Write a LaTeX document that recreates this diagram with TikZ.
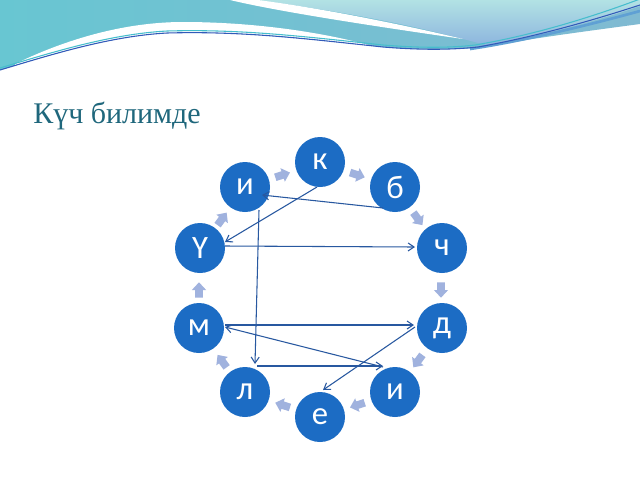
\documentclass[tikz,border=0pt]{standalone}
\usepackage{fontspec}
\setmainfont{Liberation Serif}
\newfontfamily\letterfont{Carlito}
\usetikzlibrary{arrows.meta,calc}
\definecolor{ballblue}{RGB}{28,108,196}
\definecolor{linkblue}{RGB}{40,88,160}
\definecolor{chev}{RGB}{160,178,222}
\definecolor{titleteal}{RGB}{31,103,124}
\definecolor{hdrleft}{RGB}{104,198,210}
\definecolor{hdrright}{RGB}{128,186,210}
\definecolor{cyantop}{RGB}{178,226,228}
\definecolor{cyanbot}{RGB}{140,180,222}
\definecolor{lineteal}{RGB}{70,190,205}
\definecolor{lineblue}{RGB}{50,90,185}
\definecolor{bandblue}{RGB}{95,160,212}
\begin{document}
\begin{tikzpicture}[x=0.75pt,y=-0.75pt,
  ball/.style={circle,fill=ballblue,minimum size=37.5pt,inner sep=0pt,text=white,
    font=\letterfont\fontsize{24.5}{24.5}\selectfont},
  link/.style={draw=linkblue,line width=0.8pt,-{Straight Barb[length=4.5pt,width=6pt]}},
  chevron/.style={fill=chev}
]
\useasboundingbox (0,0) rectangle (640,480);
\fill[white] (0,0) rectangle (640,480);
% header: base blue region
\shade[left color=hdrleft,right color=hdrright]
  (0,0) -- (640,0) -- (640,24)
  .. controls (580,32) and (520,40) .. (480,48)
  .. controls (440,50) and (400,49) .. (383,47)
  .. controls (300,38) and (240,31) .. (167,33)
  .. controls (110,36) and (50,55) .. (0,70) -- cycle;
% light cyan region top right
\shade[top color=cyantop,bottom color=cyanbot]
  (255,0) .. controls (320,8) and (400,22) .. (463,39)
  -- (490,46) .. controls (540,36) and (600,20) .. (640,6) -- (640,0) -- cycle;
% upper white crescent
\fill[white] (230,0) .. controls (280,12) and (380,27) .. (463,39)
  .. controls (400,24) and (320,8) .. (258,0) -- cycle;
% lower white swoosh
\fill[white] (15,64) .. controls (60,42) and (120,22) .. (183,22)
  .. controls (260,22) and (330,34) .. (372,46)
  .. controls (300,37) and (240,31) .. (167,33)
  .. controls (110,36) and (50,55) .. (15,65) -- cycle;
% header lines
\draw[lineteal,line width=0.8pt] (0,68) .. controls (50,53) and (110,34) .. (167,31)
  .. controls (240,29) and (300,36) .. (383,45)
  .. controls (420,48) and (450,48) .. (475,45)
  .. controls (540,34) and (600,14) .. (640,-1);
\draw[bandblue,line width=2pt] (470,49) .. controls (530,40) and (600,22) .. (640,11);
\draw[lineblue,line width=0.8pt] (0,70) .. controls (50,55) and (110,36) .. (167,33)
  .. controls (240,31) and (300,38) .. (383,47)
  .. controls (420,50) and (450,50) .. (478,47)
  .. controls (540,36) and (600,18) .. (640,5);
% title
\node[anchor=base west,inner sep=0pt,text=titleteal,font=\fontsize{22.5}{22.5}\selectfont] (title) at (33,123) {Күч билимде};
% small ring arrows
\foreach \t in {108,72,36,0,-36,-72,-108,-144,180,144}{
  \fill[chevron,shift={({320+121*cos(\t)},{290-121*sin(\t)})},rotate={\t-90},scale=1.1]
    (-7,-3.5) -- (0,-3.5) -- (0,-6.5) -- (7,0) -- (0,6.5) -- (0,3.5) -- (-7,3.5) -- cycle;
}
% letter circles
\node[ball] (k) at (320,162) {к};
\node[ball] (i1) at (245,187) {и};
\node[ball] (b) at (395,187) {б};
\node[ball] (Y) at (200,248) {Ү};
\node[ball] (ch) at (442,248) {ч};
\node[ball] (m) at (199,328) {м};
\node[ball] (d) at (442,328) {д};
\node[ball] (l) at (245,392) {л};
\node[ball] (i2) at (395,392) {и};
\node[ball] (e) at (320,417) {е};
% connectors
\draw[link] ($(k)+(-3,25)$) -- ($(Y)+(25,-6)$);
\draw[link] ($(Y)+(25,-2)$) -- ($(ch)+(-27,-1)$);
\draw[link] ($(b)+(-12,21)$) -- ($(i1)+(17,8)$);
\draw[link] ($(i1)+(14,23)$) -- ($(l)+(10,-28)$);
\draw[link] ($(l)+(12,-26)$) -- ($(i2)+(-12,-26)$);
\draw[link] ($(i2)+(-12,-25)$) -- ($(m)+(26,-1)$);
\draw[link] ($(m)+(26,-3)$) -- ($(d)+(-28,-3)$);
\draw[link] ($(d)+(-27,-1)$) -- ($(e)+(3,-27)$);
\end{tikzpicture}
\end{document}
